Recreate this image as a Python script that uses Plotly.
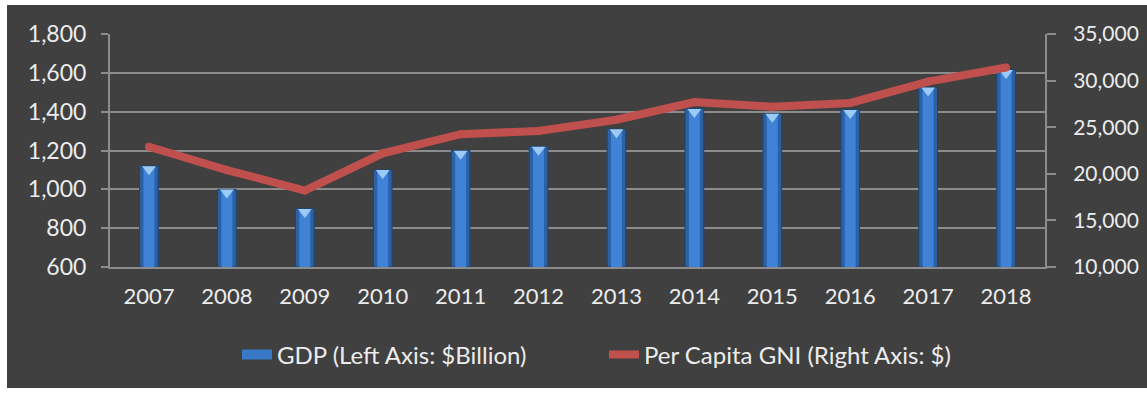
import plotly.graph_objects as go

years = ["2007", "2008", "2009", "2010", "2011", "2012", "2013", "2014", "2015", "2016", "2017", "2018"]
gdp = [1120, 1000, 900, 1100, 1200, 1220, 1310, 1415, 1390, 1410, 1525, 1615]
gni = [22900, 20400, 18200, 22200, 24250, 24600, 25800, 27700, 27200, 27600, 29900, 31400]

y_range = [600, 1800]
y2_range = [10000, 35000]
y_ticks = [600, 800, 1000, 1200, 1400, 1600, 1800]
y2_ticks = [10000, 15000, 20000, 25000, 30000, 35000]

W, H = 1147, 394
ml, mr, mt, mb = 110, 102, 34, 127
plot_w = W - ml - mr
plot_h = H - mt - mb
px_per_unit = (y_range[1] - y_range[0]) / plot_h

FONT = "Lato"
TXT = "#ececec"
GRID = "#8c8c8c"
FS = 22

fig = go.Figure()

# Bar body (darker edges)
fig.add_trace(go.Bar(
    x=years, y=[v - y_range[0] for v in gdp], base=y_range[0], width=0.24,
    marker=dict(color="#2b62a6", line=dict(color="#1d4473", width=1)),
    showlegend=False, hoverinfo="skip",
))
# Bar centre highlight
fig.add_trace(go.Bar(
    x=years, y=[v - y_range[0] - 2 * px_per_unit for v in gdp], base=y_range[0], width=0.14,
    marker=dict(color="#3f82d6", line=dict(width=0)),
    showlegend=False, hoverinfo="skip",
))
# Bevel triangle on top of the bars
fig.add_trace(go.Scatter(
    x=years, y=[v - 3.2 * px_per_unit for v in gdp], mode="markers",
    marker=dict(symbol="triangle-down", size=12, color="#9ccaf6", line=dict(width=0)),
    showlegend=False, hoverinfo="skip",
))
# Legend entry for GDP (wide bar-like swatch)
fig.add_trace(go.Scatter(
    x=[None], y=[None], mode="lines", line=dict(color="#3a78c8", width=14),
    name="GDP (Left Axis: $Billion)", hoverinfo="skip",
))
# GNI line
fig.add_trace(go.Scatter(
    x=years, y=gni, yaxis="y2", mode="lines+markers",
    line=dict(color="#c0504d", width=8),
    marker=dict(size=8, color="#c0504d", line=dict(width=0)),
    name="Per Capita GNI (Right Axis: $)", hoverinfo="skip",
))

x0 = (7 - ml) / plot_w
x1 = (W - ml) / plot_w
y0 = (H - mb - 388) / plot_h
y1 = (H - mb - 5) / plot_h

fig.update_layout(
    width=W, height=H,
    margin=dict(l=ml, r=mr, t=mt, b=mb, pad=0, autoexpand=False),
    paper_bgcolor="white", plot_bgcolor="#404040",
    barmode="overlay",
    font=dict(family=FONT, size=FS, color=TXT),
    shapes=[dict(type="rect", xref="paper", yref="paper", x0=x0, x1=x1, y0=y0, y1=y1,
                 fillcolor="#404040", line=dict(width=0), layer="below")],
    xaxis=dict(type="category", range=[-0.5, len(years) - 0.5], autorange=False,
               showline=True, linecolor=GRID, linewidth=2,
               ticks="", showgrid=False, tickfont=dict(size=FS, color=TXT),
               ticklabelstandoff=9, zeroline=False),
    yaxis=dict(range=y_range, tickvals=y_ticks, tickformat=",", showline=True,
               linecolor=GRID, linewidth=2, ticks="outside", ticklen=7, tickwidth=2,
               tickcolor=GRID, showgrid=True, gridcolor=GRID, gridwidth=2,
               zeroline=False, tickfont=dict(size=23, color=TXT), ticklabelstandoff=10),
    yaxis2=dict(range=y2_range, tickvals=y2_ticks, tickformat=",", overlaying="y",
                side="right", showline=True, linecolor=GRID, linewidth=2,
                ticks="outside", ticklen=9, tickwidth=2, tickcolor=GRID,
                showgrid=False, zeroline=False, tickfont=dict(size=21, color=TXT),
                ticklabelstandoff=13),
    legend=dict(orientation="h", x=(237 - ml) / plot_w, xanchor="left",
                y=(H - mb - 355) / plot_h,
                yanchor="middle", font=dict(size=24, color=TXT), bgcolor="rgba(0,0,0,0)",
                traceorder="normal", entrywidth=322, entrywidthmode="pixels"),
)

fig.write_html("out.html")
